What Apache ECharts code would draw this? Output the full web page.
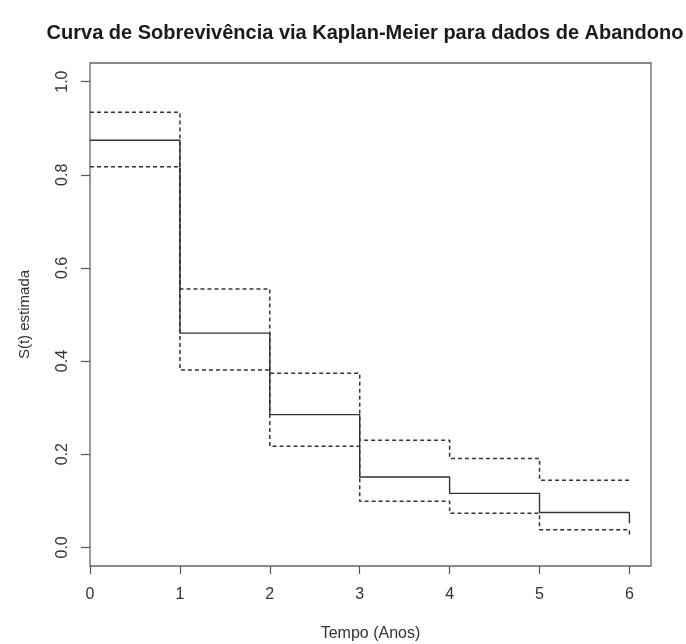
<!DOCTYPE html>
<html>
<head>
<meta charset="utf-8">
<script src="https://cdn.jsdelivr.net/npm/echarts@6/dist/echarts.min.js"></script>
<style>
html,body{margin:0;padding:0;background:#fff;}
#chart{width:686px;height:644px;}
</style>
</head>
<body>
<div id="chart"></div>
<script>
// Data
const times = [0, 1, 2, 3, 4, 5, 6];
const survival = [0.874, 0.460, 0.285, 0.151, 0.116, 0.075, 0.052];
const upperCI = [0.934, 0.555, 0.374, 0.230, 0.191, 0.144, 0.144];
const lowerCI = [0.817, 0.381, 0.217, 0.099, 0.073, 0.038, 0.024];
const xTicks = [0, 1, 2, 3, 4, 5, 6];
const yTicks = [0, 0.2, 0.4, 0.6, 0.8, 1.0];
const titleText = 'Curva de Sobrevivência via Kaplan-Meier para dados de Abandono';
const xName = 'Tempo (Anos)';
const yName = 'S(t) estimada';

const font = '"Liberation Sans", Arial, sans-serif';
const pair = (ys) => times.map((t, i) => [t, ys[i]]);

const chart = echarts.init(document.getElementById('chart'), null, {renderer: 'canvas'});
chart.setOption({
  animation: false,
  backgroundColor: '#fff',
  title: {
    text: titleText,
    left: 360,
    top: 18,
    textAlign: 'center',
    textStyle: {fontFamily: font, fontWeight: 'bold', fontSize: 20, color: '#1a1a1a'}
  },
  grid: {
    left: 90, top: 63, right: 35, bottom: 78,
    outerBoundsMode: 'none', containLabel: false,
    show: true, borderColor: '#666', borderWidth: 1.3, backgroundColor: 'transparent'
  },
  xAxis: {
    type: 'value', min: 0, max: 6.24,
    name: xName, nameLocation: 'middle', nameGap: 60,
    nameTextStyle: {fontFamily: font, fontSize: 16, color: '#333'},
    axisLine: {show: false, onZero: false},
    axisTick: {show: true, length: 8, customValues: xTicks, lineStyle: {color: '#555', width: 1.2}},
    axisLabel: {customValues: xTicks, fontFamily: font, fontSize: 16, color: '#333', margin: 21,
      formatter: v => String(v)},
    splitLine: {show: false}
  },
  yAxis: {
    type: 'value', min: -0.04, max: 1.04,
    name: yName, nameLocation: 'middle', nameGap: 58, nameRotate: 90,
    nameTextStyle: {fontFamily: font, fontSize: 15, color: '#333'},
    axisLine: {show: false, onZero: false},
    axisTick: {show: true, length: 9, customValues: yTicks, lineStyle: {color: '#555', width: 1.2}},
    axisLabel: {customValues: yTicks, rotate: 90, fontFamily: font, fontSize: 16, color: '#333', margin: 19,
      formatter: v => v.toFixed(1)},
    splitLine: {show: false}
  },
  series: [
    {type: 'line', step: 'end', data: pair(survival), symbol: 'none',
      lineStyle: {color: '#333', width: 1.4, type: 'solid'}},
    {type: 'line', step: 'end', data: pair(upperCI), symbol: 'none',
      lineStyle: {color: '#333', width: 1.5, type: [4, 3]}},
    {type: 'line', step: 'end', data: pair(lowerCI), symbol: 'none',
      lineStyle: {color: '#333', width: 1.5, type: [4, 3]}}
  ]
});
</script>
</body>
</html>
